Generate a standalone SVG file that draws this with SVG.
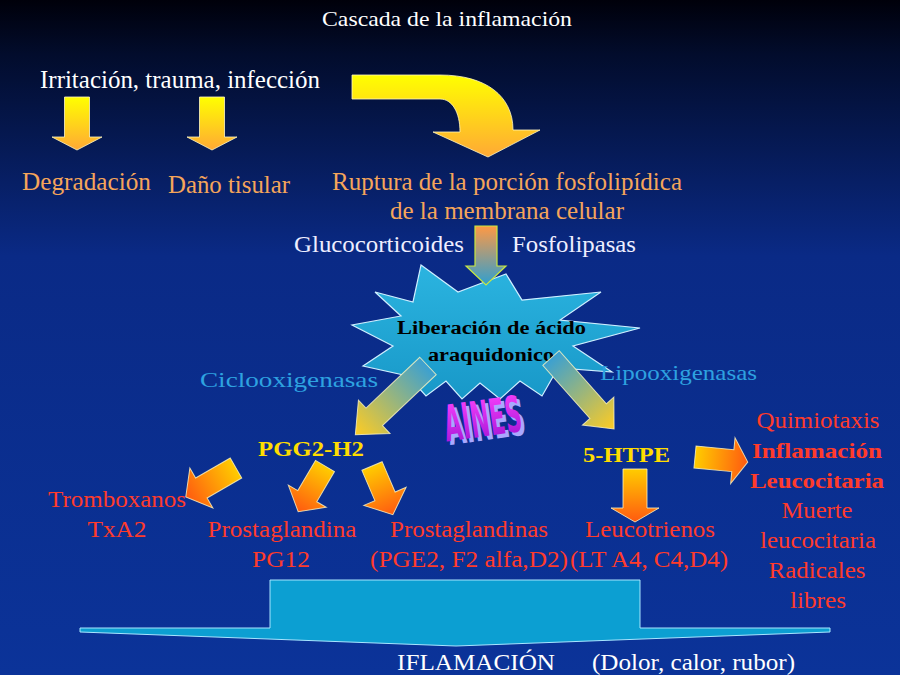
<svg xmlns="http://www.w3.org/2000/svg" width="900" height="675" viewBox="0 0 900 675" font-family="Liberation Serif, Times New Roman, serif">
<defs>
<linearGradient id="bg" x1="0" y1="0" x2="0" y2="1">
<stop offset="0" stop-color="#00000a"/>
<stop offset="0.08" stop-color="#020c2c"/>
<stop offset="0.38" stop-color="#0a2a86"/>
<stop offset="1" stop-color="#0b3399"/>
</linearGradient>
<linearGradient id="gYel" x1="0" y1="0" x2="0" y2="1">
<stop offset="0" stop-color="#ffff00"/>
<stop offset="1" stop-color="#ffa935"/>
</linearGradient>
<linearGradient id="gRed" x1="0" y1="0" x2="0" y2="1">
<stop offset="0" stop-color="#ffcc00"/>
<stop offset="1" stop-color="#ff5a10"/>
</linearGradient>
<linearGradient id="gBlue" x1="0" y1="0" x2="0" y2="1">
<stop offset="0" stop-color="#3aa0d2"/>
<stop offset="1" stop-color="#ffcc22"/>
</linearGradient>
<linearGradient id="gFos" x1="0" y1="0" x2="0" y2="1">
<stop offset="0" stop-color="#ff9944"/>
<stop offset="1" stop-color="#2f9fd0"/>
</linearGradient>
<linearGradient id="gStar" x1="0" y1="0" x2="0" y2="1">
<stop offset="0" stop-color="#2bb4e0"/>
<stop offset="1" stop-color="#1898c8"/>
</linearGradient>
<linearGradient id="gAines" x1="0" y1="0" x2="0" y2="1">
<stop offset="0" stop-color="#ff44ff"/>
<stop offset="1" stop-color="#9a10d0"/>
</linearGradient>
<style>
.w{fill:#ffffff}
.lw{fill:#eeeeff}
.o{fill:#f5a55a}
.r{fill:#ff3b2b}
.c{fill:#2ea2e0}
.y{fill:#ffdd00;font-weight:bold}
.b{font-weight:bold}
.arr{stroke:#fff6c0;stroke-width:1;stroke-opacity:0.8}
</style>
</defs>
<rect width="900" height="675" fill="url(#bg)"/>

<text class="w" x="447" y="26" font-size="22" text-anchor="middle" textLength="250" lengthAdjust="spacingAndGlyphs">Cascada de la inflamación</text>

<g id="irritacion">
<text class="w" x="40" y="88" font-size="26" textLength="280" lengthAdjust="spacingAndGlyphs">Irritación, trauma, infección</text>
</g>
<g id="degradacion"><text class="o" x="22" y="190" font-size="25" textLength="129" lengthAdjust="spacingAndGlyphs">Degradación</text></g>
<g id="dano"><text class="o" x="168" y="193" font-size="25" textLength="122" lengthAdjust="spacingAndGlyphs">Daño tisular</text></g>
<g id="ruptura">
<text class="o" x="332" y="190" font-size="25" textLength="350" lengthAdjust="spacingAndGlyphs">Ruptura de la porción fosfolipídica</text>
<text class="o" x="390" y="219" font-size="25" textLength="234" lengthAdjust="spacingAndGlyphs">de la membrana celular</text>
</g>
<g id="gluco"><text class="lw" x="294" y="252" font-size="23" textLength="170" lengthAdjust="spacingAndGlyphs">Glucocorticoides</text></g>
<g id="fosfo"><text class="lw" x="512" y="252" font-size="23" textLength="124" lengthAdjust="spacingAndGlyphs">Fosfolipasas</text></g>

<g id="liberacion">
<polygon points="421,265 458,292 482,283 506,274 522,300 601,292 560,320 640,328 573,346 612,372 558,368 542,396 520,381 500,399 480,383 462,399 446,381 426,396 408,376 363,366 393,346 352,325 401,316 375,292 413,302" fill="url(#gStar)" stroke="#cfefff" stroke-width="1.2"/>
<text class="b" x="397" y="334" font-size="18" fill="#000" textLength="189" lengthAdjust="spacingAndGlyphs">Liberación de ácido</text>
<text class="b" x="428" y="361" font-size="18" fill="#000" textLength="126" lengthAdjust="spacingAndGlyphs">araquidonico</text>
</g>

<g id="ciclo"><text class="c" x="200" y="387" font-size="22" textLength="178" lengthAdjust="spacingAndGlyphs">Ciclooxigenasas</text></g>
<g id="lipo"><text class="c" x="600" y="380" font-size="22" textLength="157" lengthAdjust="spacingAndGlyphs">Lipooxigenasas</text></g>

<g id="aines" transform="translate(486,436) rotate(-8)">
<text x="-37" y="4" font-family="Liberation Sans Narrow, DejaVu Sans Condensed, Liberation Sans, sans-serif" font-weight="bold" font-size="50" fill="#a8a8ff" textLength="78" lengthAdjust="spacingAndGlyphs">AINES</text>
<text x="-40" y="0" font-family="Liberation Sans Narrow, DejaVu Sans Condensed, Liberation Sans, sans-serif" font-weight="bold" font-size="50" fill="url(#gAines)" textLength="78" lengthAdjust="spacingAndGlyphs">AINES</text>
</g>

<g id="pgg"><text class="y" x="258" y="456" font-size="22" textLength="106" lengthAdjust="spacingAndGlyphs">PGG2-H2</text></g>
<g id="htpe"><text class="y" x="583" y="462" font-size="22" textLength="87" lengthAdjust="spacingAndGlyphs">5-HTPE</text></g>

<g id="tromboxanos">
<text class="r" x="117" y="507" font-size="24" text-anchor="middle" textLength="138" lengthAdjust="spacingAndGlyphs">Tromboxanos</text>
<text class="r" x="117" y="537" font-size="24" text-anchor="middle" textLength="59" lengthAdjust="spacingAndGlyphs">TxA2</text>
</g>
<g id="prostaglandina">
<text class="r" x="282" y="537" font-size="24" text-anchor="middle" textLength="149" lengthAdjust="spacingAndGlyphs">Prostaglandina</text>
<text class="r" x="281" y="567" font-size="24" text-anchor="middle" textLength="58" lengthAdjust="spacingAndGlyphs">PG12</text>
</g>
<g id="prostaglandinas">
<text class="r" x="469" y="537" font-size="24" text-anchor="middle" textLength="158" lengthAdjust="spacingAndGlyphs">Prostaglandinas</text>
<text class="r" x="469" y="567" font-size="24" text-anchor="middle" textLength="198" lengthAdjust="spacingAndGlyphs">(PGE2, F2 alfa,D2)</text>
</g>
<g id="leucotrienos">
<text class="r" x="650" y="537" font-size="24" text-anchor="middle" textLength="130" lengthAdjust="spacingAndGlyphs">Leucotrienos</text>
<text class="r" x="649" y="567" font-size="24" text-anchor="middle" textLength="158" lengthAdjust="spacingAndGlyphs">(LT A4, C4,D4)</text>
</g>
<g id="efectos">
<text class="r" x="818" y="428" font-size="23" text-anchor="middle" textLength="123" lengthAdjust="spacingAndGlyphs">Quimiotaxis</text>
<text class="r b" x="817" y="458" font-size="22" text-anchor="middle" textLength="130" lengthAdjust="spacingAndGlyphs">Inflamación</text>
<text class="r b" x="817" y="488" font-size="22" text-anchor="middle" textLength="134" lengthAdjust="spacingAndGlyphs">Leucocitaria</text>
<text class="r" x="817" y="518" font-size="23" text-anchor="middle" textLength="71" lengthAdjust="spacingAndGlyphs">Muerte</text>
<text class="r" x="818" y="548" font-size="23" text-anchor="middle" textLength="116" lengthAdjust="spacingAndGlyphs">leucocitaria</text>
<text class="r" x="817" y="578" font-size="23" text-anchor="middle" textLength="97" lengthAdjust="spacingAndGlyphs">Radicales</text>
<text class="r" x="818" y="608" font-size="23" text-anchor="middle" textLength="56" lengthAdjust="spacingAndGlyphs">libres</text>
</g>

<g id="inflamacion">
<polygon points="270,580 640,580 640,628 830,628 830,632 456,646 80,632 80,628 270,628" fill="#0c9fd2" stroke="#a8e6ff" stroke-width="1"/>
<text class="w" x="397" y="670" font-size="23" textLength="158" lengthAdjust="spacingAndGlyphs">IFLAMACIÓN</text>
<text class="w" x="592" y="670" font-size="23" textLength="203" lengthAdjust="spacingAndGlyphs">(Dolor, calor, rubor)</text>
</g>

<g id="connectors">
<polygon class="arr" transform="translate(77,97)" points="-12.5,0 12.5,0 12.5,40 25,40 0,53 -25,40 -12.5,40" fill="url(#gYel)"/>
<polygon class="arr" transform="translate(212,97)" points="-12.5,0 12.5,0 12.5,40 25,40 0,53 -25,40 -12.5,40" fill="url(#gYel)"/>
<path class="arr" d="M352,75 L440,75 C486,75 513,96 513,130 L540,130 L488,157 L433,132 L460,132 C460,112 452,99 440,99 L352,99 Z" fill="url(#gYel)"/>
<polygon transform="translate(486,226)" points="-11,0 11,0 11,40 20,40 0,59 -20,40 -11,40" fill="url(#gFos)" stroke="#c8e840" stroke-width="1.2"/>
<polygon class="arr" transform="translate(428,366) rotate(46.6)" points="-12,0 12,0 12,74 23,74 0,100 -23,74 -12,74" fill="url(#gBlue)"/>
<polygon class="arr" transform="translate(551,358) rotate(-41.6)" points="-11,0 11,0 11,71 21,71 0,95 -21,71 -11,71" fill="url(#gBlue)"/>
<polygon class="arr" transform="translate(236,468) rotate(60)" points="-11.5,0 11.5,0 11.5,40 23,40 0,58 -23,40 -11.5,40" fill="url(#gRed)"/>
<polygon class="arr" transform="translate(325,466) rotate(30.4)" points="-11,0 11,0 11,35 22,35 0,53 -22,35 -11,35" fill="url(#gRed)"/>
<polygon class="arr" transform="translate(372,466) rotate(-23.2)" points="-11,0 11,0 11,33 23,33 0,53 -23,33 -11,33" fill="url(#gRed)"/>
<polygon class="arr" transform="translate(635,469) rotate(0)" points="-12,0 12,0 12,39 24,39 0,53 -24,39 -12,39" fill="url(#gRed)"/>
<polygon class="arr" transform="translate(695,457) rotate(-84.5)" points="-11,0 11,0 11,38 23,38 0,53 -23,38 -11,38" fill="url(#gRed)"/>
</g>
</svg>
